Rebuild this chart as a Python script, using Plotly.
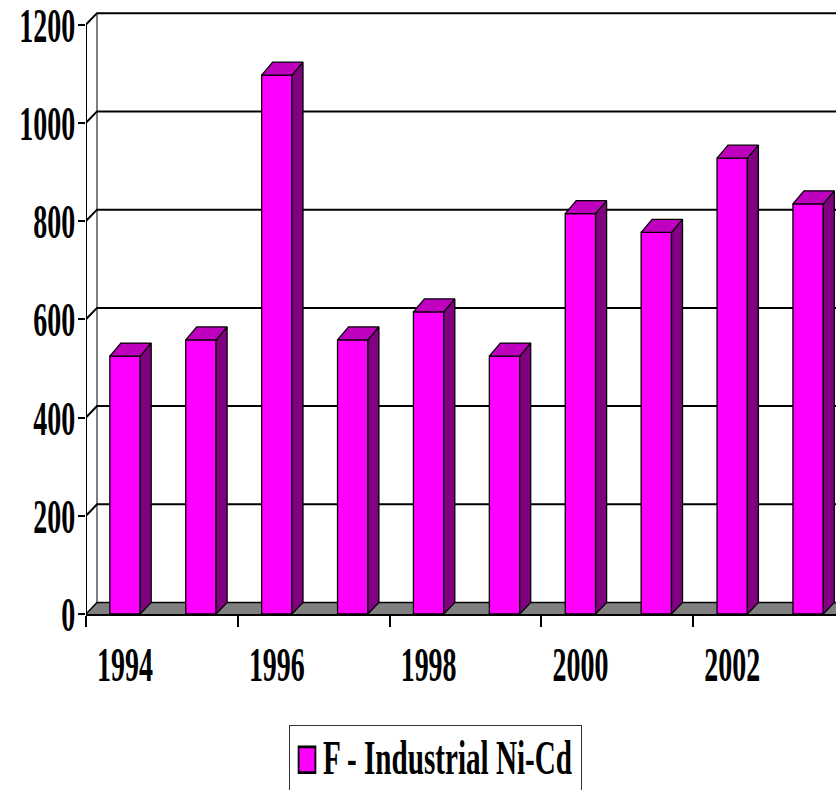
import plotly.graph_objects as go

# Values
years = [1994, 1995, 1996, 1997, 1998, 1999, 2000, 2001, 2002, 2003]
values = [525, 558, 1097, 558, 615, 525, 815, 777, 928, 835]
y_ticks = [0, 200, 400, 600, 800, 1000, 1200]
x_labels = [1994, 1996, 1998, 2000, 2002]
series_name = "F - Industrial Ni-Cd"

# Fake 3D depth, in axis units
BAR_WIDTH = 0.40
DEPTH_X = 0.145
WALL_DY = 23.2
TOP_DY = 26.5

X_START = 1993.486
X_END = X_START + 750 / 75.9
Y_MAX = 1250

FONT = "Liberation Serif"

# Step 1: the back wall and floor, drawn behind the bars
shapes = []
floor_path = (
    f"M{X_START},0 L{X_START + DEPTH_X},{WALL_DY} "
    f"L{X_END},{WALL_DY} L{X_END},0 Z"
)
shapes.append(dict(type="path", path=floor_path, xref="x", yref="y", layer="below",
                   fillcolor="#808080", line=dict(width=0)))
for t in y_ticks:
    grid_path = (
        f"M{X_START},{t} L{X_START + DEPTH_X},{t + WALL_DY} "
        f"L{X_END},{t + WALL_DY}"
    )
    shapes.append(dict(type="path", path=grid_path, xref="x", yref="y", layer="below",
                       line=dict(color="black", width=2 if t else 1.5)))
shapes.append(dict(type="line", xref="x", yref="y", layer="below",
                   x0=X_START + DEPTH_X, x1=X_START + DEPTH_X,
                   y0=WALL_DY, y1=y_ticks[-1] + WALL_DY,
                   line=dict(color="black", width=1)))

# Step 2: side and top faces of each bar
side_x, side_y, top_x, top_y = [], [], [], []
for year, value in zip(years, values):
    left = year - BAR_WIDTH / 2
    right = year + BAR_WIDTH / 2
    side_x += [right, right + DEPTH_X, right + DEPTH_X, right, right, None]
    side_y += [0, WALL_DY, value + TOP_DY, value, 0, None]
    top_x += [left, left + DEPTH_X, right + DEPTH_X, right, left, None]
    top_y += [value, value + TOP_DY, value + TOP_DY, value, value, None]

fig = go.Figure()

fig.add_trace(go.Bar(
    x=years,
    y=values,
    width=BAR_WIDTH,
    name=series_name,
    showlegend=True,
    marker=dict(color="#FF00FF", line=dict(color="black", width=1.3))
))

fig.add_trace(go.Scatter(
    x=side_x, y=side_y, mode="lines", fill="toself", fillcolor="#800080",
    line=dict(color="black", width=1.3), showlegend=False, hoverinfo="skip"
))

fig.add_trace(go.Scatter(
    x=top_x, y=top_y, mode="lines", fill="toself", fillcolor="#BF00BF",
    line=dict(color="black", width=1.3), showlegend=False, hoverinfo="skip"
))

# The value axis line stops at the top tick, so it is not the axis's own line
fig.add_trace(go.Scatter(
    x=[X_START, X_START], y=[0, y_ticks[-1]], mode="lines",
    line=dict(color="black", width=2), cliponaxis=False,
    showlegend=False, hoverinfo="skip"
))

# Step 3: layout
fig.update_layout(
    width=836,
    height=790,
    margin=dict(l=86, r=0, t=0, b=175.7),
    paper_bgcolor="white",
    plot_bgcolor="white",
    showlegend=True,
    # placed inside the plot so it pushes no margin; moved to its box below
    legend=dict(
        orientation="h",
        x=0.3, xanchor="left",
        y=0.6, yanchor="top",
        bgcolor="white", bordercolor="#333333", borderwidth=1,
        font=dict(family=FONT, size=48, color="black", weight="bold"),
        entrywidth=250, entrywidthmode="pixels",
        itemclick=False, itemdoubleclick=False,
    ),
    xaxis=dict(
        range=[X_START, X_END],
        automargin=False,
        tickmode="array",
        tickvals=x_labels,
        ticktext=[str(y) for y in x_labels],
        ticks="",
        ticklabelstandoff=6,
        ticklabeloverflow="allow",
        showgrid=False,
        zeroline=False,
        showline=True,
        linecolor="black",
        linewidth=2,
        tickfont=dict(family=FONT, size=49, color="black", weight="bold"),
        minor=dict(tick0=X_START, dtick=2, ticks="outside", ticklen=11,
                   tickwidth=2, tickcolor="black", showgrid=False),
    ),
    yaxis=dict(
        range=[0, Y_MAX],
        automargin=False,
        tickmode="array",
        tickvals=y_ticks,
        ticks="outside",
        ticklen=7,
        tickwidth=2,
        tickcolor="black",
        ticklabelstandoff=-7,
        ticklabeloverflow="allow",
        showgrid=False,
        zeroline=False,
        showline=False,
        tickfont=dict(family=FONT, size=49, color="black", weight="bold"),
    ),
    shapes=shapes,
)

# The labels in the picture are Times Bold squeezed sideways, and the legend
# box runs off the bottom of the page
post_script = """
document.body.style.margin = '0';
var gd = document.getElementById('{plot_id}');
function squeeze(selector, ratio) {
  gd.querySelectorAll(selector).forEach(function (t) {
    t.setAttribute('textLength', t.getComputedTextLength() * ratio);
    t.setAttribute('lengthAdjust', 'spacingAndGlyphs');
  });
}
squeeze('.xtick text', 0.57);
squeeze('.ytick text', 0.57);
squeeze('.legendtext', 0.607);
var legend = gd.querySelector('.legend');
legend.setAttribute('transform', 'translate(289,725)');
legend.querySelector('.bg').setAttribute('width', 292);
legend.querySelector('.bg').setAttribute('height', 90);
legend.querySelector('.scrollbox').removeAttribute('clip-path');
var entry = legend.querySelector('.traces');
entry.setAttribute('transform', entry.getAttribute('transform') + ' translate(0,-8)');
legend.querySelector('.legendtext').setAttribute('x', 33);
legend.querySelectorAll('.legendpoints path').forEach(function (p) {
  p.setAttribute('transform', 'translate(17,4) scale(1.4,2.15)');
});
"""

fig.write_html("out.html", post_script=post_script, config=dict(displayModeBar=False))
